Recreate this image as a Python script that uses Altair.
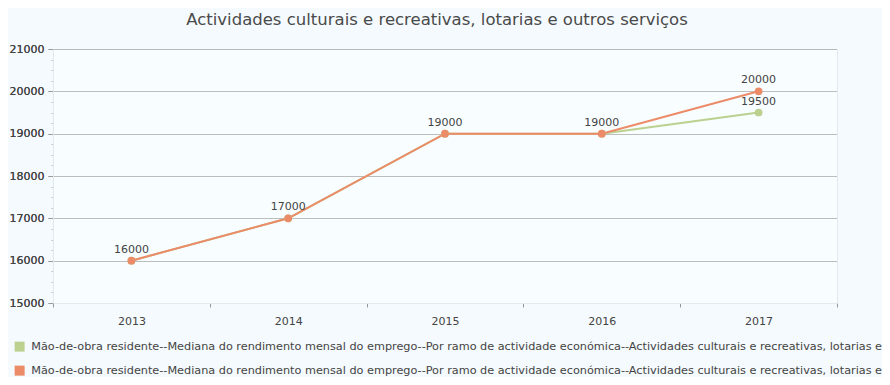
import altair as alt
import pandas as pd

years = ["2013", "2014", "2015", "2016", "2017"]
base = "Mão-de-obra residente--Mediana do rendimento mensal do emprego--Por ramo de actividade económica--Actividades culturais e recreativas, lotarias e outros serviços"
series_names = [base + "--Total", base + "--Excluindo trabalhadores não remunerados"]
green_vals = [16000, 17000, 19000, 19000, 19500]
orange_vals = [16000, 17000, 19000, 19000, 20000]
colors = ["#bcd190", "#ec8b68"]
y_ticks = [15000, 16000, 17000, 18000, 19000, 20000, 21000]
minor_ticks = [v + d for v in range(15000, 21000, 1000) for d in (250, 500, 750)]

rows = []
for i, (name, vals) in enumerate(zip(series_names, [green_vals, orange_vals])):
    for y, v in zip(years, vals):
        rows.append({"year": y, "value": v, "series": name, "order": i})
df = pd.DataFrame(rows)

xenc = alt.X("year:O", title=None,
             scale=alt.Scale(type="band", paddingInner=0, paddingOuter=0),
             axis=alt.Axis(tickBand="extent", labelAngle=0, labelFont="DejaVu Sans",
                           labelFontSize=11, labelColor="#444", labelPadding=8,
                           tickColor="#999", tickSize=4, domainColor="#e3e9ec",
                           grid=False))
yscale = alt.Scale(domain=[15000, 21000], nice=False, zero=False)
yenc = alt.Y("value:Q", title=None, scale=yscale,
             axis=alt.Axis(values=y_ticks, orient="left", labelFont="DejaVu Sans",
                           labelFontSize=11, format="d",
                           labelColor="#444", labelPadding=4, tickColor="#999",
                           tickSize=5, domainColor="#e3e9ec", grid=True,
                           gridColor="#a8a8a8", gridDash=[1, 1], gridWidth=1))
color = alt.Color("series:N", title=None,
                  scale=alt.Scale(domain=series_names, range=colors),
                  legend=alt.Legend(orient="none", legendX=-39, legendY=292,
                                    direction="vertical", symbolType="square",
                                    symbolSize=100, symbolStrokeWidth=0,
                                    labelFont="DejaVu Sans", labelFontSize=11.25,
                                    labelColor="#444", labelLimit=2000,
                                    labelOffset=6, rowPadding=12, symbolOffset=0,
                                    padding=0))

base_chart = alt.Chart(df)
lines = base_chart.mark_line(strokeWidth=2).encode(
    x=xenc, y=yenc, color=color, order="order:Q",
    detail="series:N")
points = base_chart.mark_point(filled=True, size=60, opacity=1).encode(
    x=xenc, y=yenc, color=color)
labels = base_chart.transform_aggregate(
    n="count()", groupby=["year", "value"]
).mark_text(dy=-11, font="DejaVu Sans", fontSize=11, color="#444").encode(
    x=xenc, y=alt.Y("value:Q", scale=yscale, axis=None), text="value:Q")

minor_df = pd.DataFrame({"m": minor_ticks})
minor = alt.Chart(minor_df).mark_tick(opacity=0).encode(
    y=alt.Y("m:Q", scale=yscale,
            axis=alt.Axis(values=minor_ticks, orient="left", labels=False,
                          domain=False, grid=False, tickSize=2,
                          tickColor="#c4c4c4", title=None)))

chart = alt.layer(minor, lines, points, labels).resolve_axis(y="independent").properties(
    width=784, height=254,
    autosize=alt.AutoSizeParams(type="none"),
    padding={"left": 45, "top": 41, "right": 45, "bottom": 74},
    background="#f4fafd",
    title=alt.TitleParams("Actividades culturais e recreativas, lotarias e outros serviços",
                          font="DejaVu Sans", fontSize=16.5, fontWeight="normal",
                          color="#4a4a4a", offset=15, anchor="middle", dx=-8),
).configure_view(fill="#f8fdff", stroke="#e3e9ec")

chart.save("out.html", embed_options={"renderer": "svg", "actions": False})
